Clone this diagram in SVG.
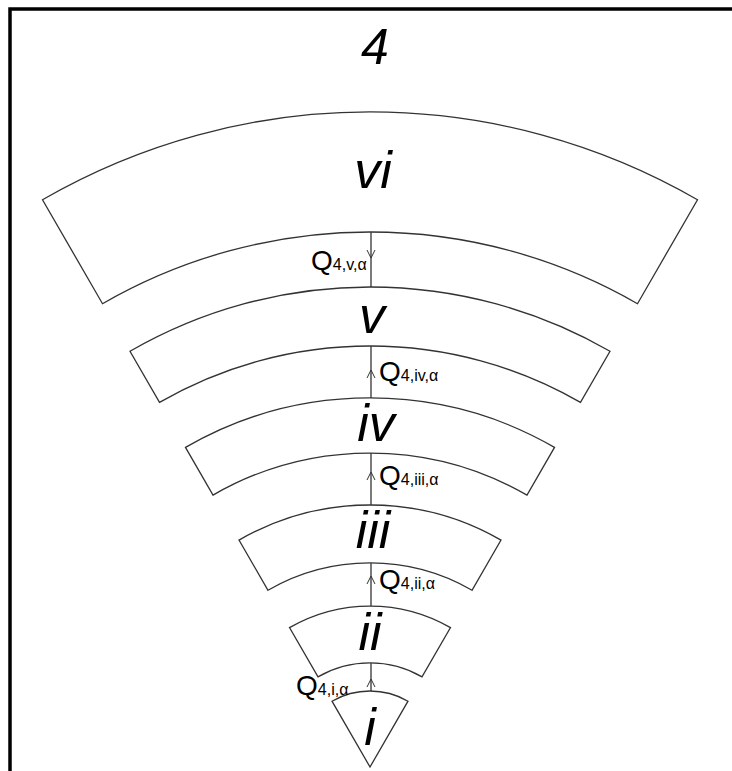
<svg xmlns="http://www.w3.org/2000/svg" width="732" height="771" viewBox="0 0 732 771">
<style>
.seg{fill:#fff;stroke:#333;stroke-width:1.3}
.lbl{font-family:"Liberation Sans",Arial,sans-serif;font-style:italic;fill:#000;text-anchor:middle}
.q{font-family:"Liberation Sans",Arial,sans-serif;fill:#000;font-size:28px}
.sub{font-size:16px}
.con{stroke:#333;stroke-width:1.3;fill:none}
.arr{stroke:#333;stroke-width:1;fill:none}
</style>
<rect width="732" height="771" fill="#fff"/>
<path d="M10,771 V9 H732" fill="none" stroke="#000" stroke-width="3.5"/>
<text class="lbl" x="375" y="64" font-size="50">4</text>
<g id="seg-vi">
<path class="seg" d="M42.5,199.7 A655,655 0 0 1 697.5,199.7 L637.5,303.7 A535,535 0 0 0 102.5,303.7 Z"/>
<text class="lbl" x="373" y="188" font-size="52">vi</text>
</g>
<g id="seg-v">
<path class="seg" d="M130,351.3 A480,480 0 0 1 610,351.3 L580.5,402.4 A421,421 0 0 0 159.5,402.4 Z"/>
<text class="lbl" x="372" y="333" font-size="52">v</text>
</g>
<g id="seg-iv">
<path class="seg" d="M185.5,447.4 A369,369 0 0 1 554.5,447.4 L527,495.1 A314,314 0 0 0 213,495.1 Z"/>
<text class="lbl" x="376" y="441" font-size="52">iv</text>
</g>
<g id="seg-iii">
<path class="seg" d="M239,540.1 A262,262 0 0 1 501,540.1 L472,590.3 A204,204 0 0 0 268,590.3 Z"/>
<text class="lbl" x="373" y="548" font-size="52">iii</text>
</g>
<g id="seg-ii">
<path class="seg" d="M289.5,627.6 A161,161 0 0 1 450.5,627.6 L422,676.9 A104,104 0 0 0 318,676.9 Z"/>
<text class="lbl" x="370" y="650" font-size="52">ii</text>
</g>
<g id="seg-i">
<path class="seg" d="M332,701.2 A76,76 0 0 1 408,701.2 L370,767 Z"/>
<text class="lbl" x="370" y="745" font-size="52">i</text>
</g>
<g id="connectors">
<line class="con" x1="371" y1="287" x2="371" y2="232"/>
<path class="arr" d="M367,250 L371,258 L375,250"/>
<text class="q" x="311" y="270">Q<tspan class="sub">4,v,α</tspan></text>
<line class="con" x1="371" y1="398" x2="371" y2="346"/>
<path class="arr" d="M367,378 L371,370 L375,378"/>
<text class="q" x="379" y="381">Q<tspan class="sub">4,iv,α</tspan></text>
<line class="con" x1="371" y1="505" x2="371" y2="453"/>
<path class="arr" d="M367,480 L371,472 L375,480"/>
<text class="q" x="379" y="485">Q<tspan class="sub">4,iii,α</tspan></text>
<line class="con" x1="371" y1="606" x2="371" y2="563"/>
<path class="arr" d="M367,584 L371,576 L375,584"/>
<text class="q" x="379" y="589">Q<tspan class="sub">4,ii,α</tspan></text>
<line class="con" x1="371" y1="691" x2="371" y2="663"/>
<path class="arr" d="M367,687 L371,679 L375,687"/>
<text class="q" x="296" y="695">Q<tspan class="sub">4,i,α</tspan></text>
</g>
</svg>
